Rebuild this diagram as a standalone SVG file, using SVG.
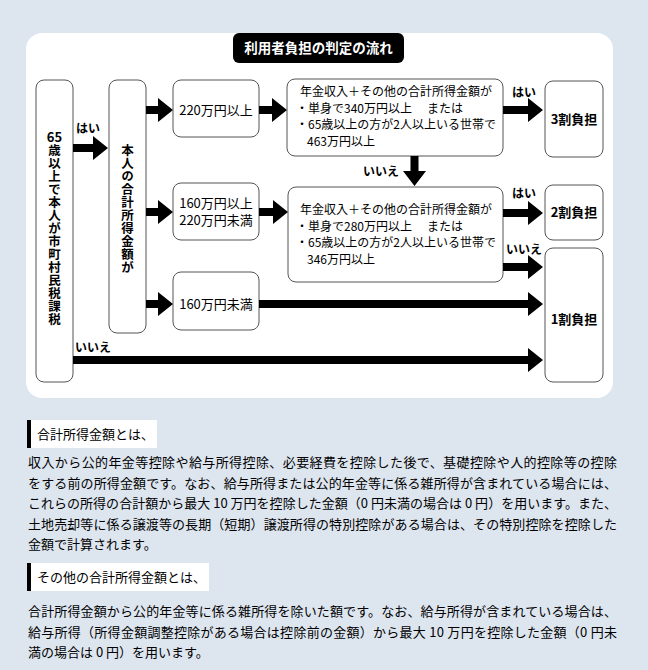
<svg xmlns="http://www.w3.org/2000/svg" width="648" height="670" viewBox="0 0 648 670">
<style>
.bg{fill:#dde5ef}
.panel{fill:#fff}
.box{fill:#fff;stroke:#555;stroke-width:1}
.arr{fill:#000}
text{font-family:"Noto Sans CJK JP","Noto Sans",sans-serif;fill:#000}
.t12{font-size:12px}
.t13{font-size:13px}
.b{font-weight:bold}
.vert{font-size:12.5px;font-weight:bold;writing-mode:vertical-rl;text-orientation:upright;letter-spacing:0.5px}
.lbl{font-size:12px;font-weight:bold}
.mid{text-anchor:middle}
.title{font-size:13.5px;font-weight:bold;fill:#fff;text-anchor:middle}
.p{font-size:13px}
</style>
<rect class="bg" x="0" y="0" width="648" height="670"/>
<rect class="panel" x="26" y="33" width="587" height="365" rx="16"/>

<g id="title">
<rect x="233" y="33" width="171" height="30" rx="6" fill="#000"/>
<text class="title" x="318.5" y="53">利用者負担の判定の流れ</text>
</g>

<g id="node-taxable">
<rect class="box" x="36" y="80" width="37" height="302" rx="8"/>
<text class="t13 b mid" x="54.5" y="141.5">65</text>
<text class="vert" x="54.5" y="143.75">歳以上で本人が市町村民税課税</text>
</g>

<g id="node-income">
<rect class="box" x="109" y="80" width="37" height="253" rx="8"/>
<text class="vert" x="127.5" y="143.75">本人の合計所得金額が</text>
</g>

<g id="node-220over">
<rect class="box" x="173" y="80" width="86" height="57" rx="8"/>
<text class="t13 mid" x="216" y="114.5">220万円以上</text>
</g>

<g id="node-160to220">
<rect class="box" x="173" y="183" width="86" height="57" rx="8"/>
<text class="t13 mid"><tspan x="216" y="207.5">160万円以上</tspan><tspan x="216" y="225">220万円未満</tspan></text>
</g>

<g id="node-160under">
<rect class="box" x="173" y="272" width="86" height="58" rx="8"/>
<text class="t13 mid" x="216" y="308.5">160万円未満</text>
</g>

<g id="node-cond1">
<rect class="box" x="287" y="79" width="216" height="77" rx="8"/>
<text class="t12">
<tspan x="300" y="96">年金収入＋その他の合計所得金額が</tspan>
<tspan x="296" y="112.5">・単身で340万円以上</tspan><tspan x="427" y="112.5">または</tspan>
<tspan x="296" y="129">・65歳以上の方が2人以上いる世帯で</tspan>
<tspan x="307" y="145.5">463万円以上</tspan>
</text>
</g>

<g id="node-cond2">
<rect class="box" x="288" y="187" width="215" height="95" rx="8"/>
<text class="t12">
<tspan x="300" y="214">年金収入＋その他の合計所得金額が</tspan>
<tspan x="296" y="230.5">・単身で280万円以上</tspan><tspan x="427" y="230.5">または</tspan>
<tspan x="296" y="247">・65歳以上の方が2人以上いる世帯で</tspan>
<tspan x="307" y="263.5">346万円以上</tspan>
</text>
</g>

<g id="node-3wari">
<rect class="box" x="545" y="81" width="58" height="76" rx="8"/>
<text class="t13 b mid" x="574" y="124">3割負担</text>
</g>

<g id="node-2wari">
<rect class="box" x="545" y="185" width="58" height="55" rx="8"/>
<text class="t13 b mid" x="574" y="217">2割負担</text>
</g>

<g id="node-1wari">
<rect class="box" x="545" y="248" width="58" height="134" rx="8"/>
<text class="t13 b mid" x="574" y="324">1割負担</text>
</g>

<g id="connectors">
<polygon class="arr" points="73,144 93,144 93,136 108,148 93,160 93,152 73,152"/>
<text class="lbl" x="76" y="133">はい</text>
<polygon class="arr" points="146,106 158,106 158,98 173,110 158,122 158,114 146,114"/>
<polygon class="arr" points="146,208 158,208 158,200 173,212 158,224 158,216 146,216"/>
<polygon class="arr" points="146,300 158,300 158,292 173,304 158,316 158,308 146,308"/>
<polygon class="arr" points="259,106 272,106 272,98 287,110 272,122 272,114 259,114"/>
<polygon class="arr" points="259,208 273,208 273,200 288,212 273,224 273,216 259,216"/>
<polygon class="arr" points="503,106 528,106 528,98 543,110 528,122 528,114 503,114"/>
<text class="lbl" x="512" y="97">はい</text>
<polygon class="arr" points="410.5,156 418.5,156 418.5,171 426,171 414.5,186 403,171 410.5,171"/>
<text class="lbl" x="363" y="176">いいえ</text>
<polygon class="arr" points="503,209 528,209 528,201 543,213 528,225 528,217 503,217"/>
<text class="lbl" x="512" y="198">はい</text>
<polygon class="arr" points="503,263 528,263 528,255 543,267 528,279 528,271 503,271"/>
<text class="lbl" x="506" y="254">いいえ</text>
<polygon class="arr" points="259,300 528,300 528,292 543,304 528,316 528,308 259,308"/>
<polygon class="arr" points="73,356 528,356 528,348 543,360 528,372 528,364 73,364"/>
<text class="lbl" x="75" y="352">いいえ</text>
</g>

<g id="note1">
<rect x="27" y="420" width="130" height="28" fill="#fff"/>
<rect x="27" y="420" width="4" height="28" fill="#000"/>
<text class="p" x="37" y="439">合計所得金額とは、</text>
<text class="p" x="28" y="467" textLength="589" lengthAdjust="spacing">収入から公的年金等控除や給与所得控除、必要経費を控除した後で、基礎控除や人的控除等の控除</text>
<text class="p" x="28" y="487.5" textLength="589" lengthAdjust="spacing">をする前の所得金額です。なお、給与所得または公的年金等に係る雑所得が含まれている場合には、</text>
<text class="p" x="28" y="508" textLength="589" lengthAdjust="spacing">これらの所得の合計額から最大 10 万円を控除した金額（0 円未満の場合は 0 円）を用います。また、</text>
<text class="p" x="28" y="528.5" textLength="589" lengthAdjust="spacing">土地売却等に係る譲渡等の長期（短期）譲渡所得の特別控除がある場合は、その特別控除を控除した</text>
<text class="p" x="28" y="549">金額で計算されます。</text>
</g>

<g id="note2">
<rect x="27" y="563" width="182" height="28" fill="#fff"/>
<rect x="27" y="563" width="4" height="28" fill="#000"/>
<text class="p" x="37" y="582">その他の合計所得金額とは、</text>
<text class="p" x="28" y="616" textLength="589" lengthAdjust="spacing">合計所得金額から公的年金等に係る雑所得を除いた額です。なお、給与所得が含まれている場合は、</text>
<text class="p" x="28" y="636.5" textLength="589" lengthAdjust="spacing">給与所得（所得金額調整控除がある場合は控除前の金額）から最大 10 万円を控除した金額（0 円未</text>
<text class="p" x="28" y="657">満の場合は 0 円）を用います。</text>
</g>
</svg>
